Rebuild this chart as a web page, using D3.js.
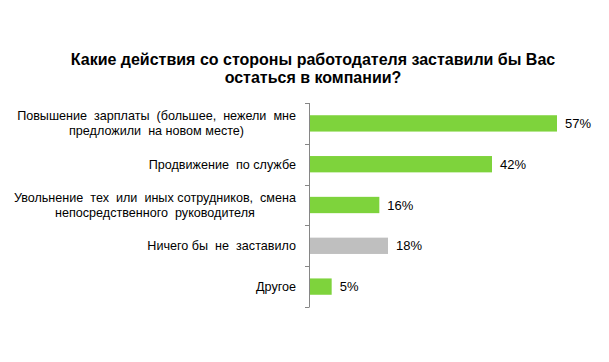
<!DOCTYPE html>
<html>
<head>
<meta charset="utf-8">
<script src="https://cdn.jsdelivr.net/npm/d3@7"></script>
<style>
  body { margin: 0; background: #fff; }
  text { font-family: "Liberation Sans", Arial, sans-serif; fill: #000; }
</style>
</head>
<body>
<div id="chart"></div>
<script>

// data
var categories = [
    ["Повышение  зарплаты  (большее,  нежели  мне", "предложили  на новом месте)"],
    ["Продвижение  по службе"],
    ["Увольнение  тех  или  иных сотрудников,  смена", "непосредственного  руководителя"],
    ["Ничего бы  не  заставило"],
    ["Другое"]
];
var values = [57, 42, 16, 18, 5];
var barColors = ["#7ed33c", "#7ed33c", "#7ed33c", "#bfbfbf", "#7ed33c"];
var titleLines = ["Какие действия со стороны работодателя заставили бы Вас", "остаться в компании?"];

var W = 609, H = 362;

var svg = d3.select("#chart").append("svg")
    .attr("width", W)
    .attr("height", H);

// title
svg.append("g").selectAll("text")
    .data(titleLines)
    .enter().append("text")
    .attr("x", 313)
    .attr("y", function(d, i) { return 65 + i * 18; })
    .style("text-anchor", "middle")
    .style("font-weight", "bold")
    .style("font-size", "16px")
    .text(function(d) { return d; });

var x = d3.scaleLinear().domain([0, 60]).range([310, 570]);
var y = d3.scaleBand().domain(d3.range(values.length)).range([103, 307]).paddingInner(0.6).paddingOuter(0.3);
var yAxisScale = d3.scaleBand().domain(d3.range(values.length)).range([103, 307]);

// axis line + ticks between categories
var axis = svg.append("g").attr("class", "axis");
axis.append("line")
    .attr("x1", 309.5).attr("x2", 309.5)
    .attr("y1", 103).attr("y2", 307)
    .attr("stroke", "#868686");
axis.selectAll("line.tick")
    .data(d3.range(values.length + 1))
    .enter().append("line")
    .attr("class", "tick")
    .attr("x1", 305).attr("x2", 309.5)
    .attr("y1", function(i) { return Math.round(103 + i * yAxisScale.step()) + 0.5; })
    .attr("y2", function(i) { return Math.round(103 + i * yAxisScale.step()) + 0.5; })
    .attr("stroke", "#868686");

// bars
svg.append("g").selectAll("rect")
    .data(values)
    .enter().append("rect")
    .attr("x", x(0))
    .attr("y", function(d, i) { return y(i); })
    .attr("width", function(d) { return x(d) - x(0); })
    .attr("height", y.bandwidth())
    .style("fill", function(d, i) { return barColors[i]; });

// value labels
svg.append("g").selectAll("text")
    .data(values)
    .enter().append("text")
    .attr("x", function(d) { return x(d) + 8; })
    .attr("y", function(d, i) { return y(i) + y.bandwidth() / 2; })
    .attr("dy", "0.35em")
    .style("font-size", "13px")
    .text(function(d) { return d + "%"; });

// category labels, lines centred within a right-aligned block
var labelRight = 296;
categories.forEach(function(lines, i) {
    var g = svg.append("g");
    var cy = yAxisScale(i) + yAxisScale.bandwidth() / 2;
    var t = g.selectAll("text")
        .data(lines)
        .enter().append("text")
        .attr("y", function(d, j) { return cy + (j - (lines.length - 1) / 2) * 15; })
        .attr("dy", "0.35em")
        .style("font-size", "12.6px")
        .style("white-space", "pre")
        .style("text-anchor", "middle")
        .text(function(d) { return d; });
    var maxW = 0;
    t.each(function() { maxW = Math.max(maxW, this.getComputedTextLength()); });
    t.attr("x", labelRight - maxW / 2);
});

</script>
</body>
</html>
